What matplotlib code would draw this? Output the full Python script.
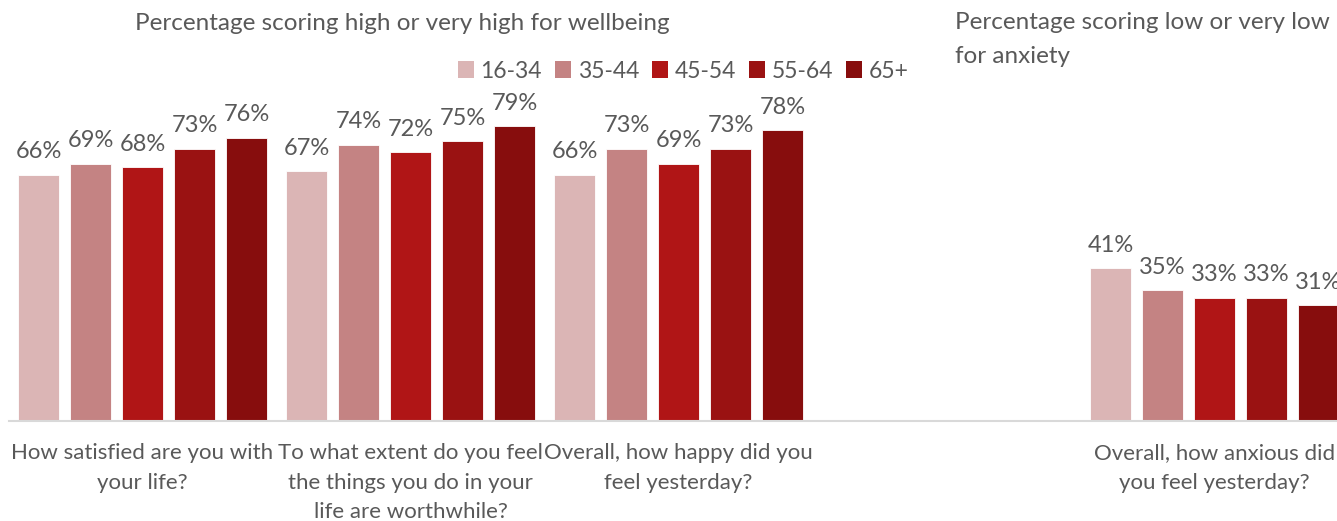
import matplotlib
matplotlib.use("Agg")
import matplotlib.pyplot as plt
from matplotlib.patches import Patch
import numpy as np

# Survey questions (slot 3 is an empty spacer between the two blocks)
questions = [
    "How satisfied are you with\nyour life?",
    "To what extent do you feel\nthe things you do in your\nlife are worthwhile?",
    "Overall, how happy did you\nfeel yesterday?",
    "",
    "Overall, how anxious did\nyou feel yesterday?",
]
question_slots = [0, 1, 2, 4]

age_groups = ["16-34", "35-44", "45-54", "55-64", "65+"]
age_colors = ["#DBB5B5", "#C48383", "#B01516", "#9A1212", "#870D0D"]

# Percentages per question (rows follow question_slots), columns follow age_groups
pct_16_34 = [66, 67, 66, 41]
pct_35_44 = [69, 74, 73, 35]
pct_45_54 = [68, 72, 69, 33]
pct_55_64 = [73, 75, 73, 33]
pct_65_plus = [76, 79, 78, 31]
series = [pct_16_34, pct_35_44, pct_45_54, pct_55_64, pct_65_plus]

text_color = "#595959"
font = "Lato"

fig = plt.figure(figsize=(13.37, 5.21), dpi=100)
ax = fig.add_axes([0, 100 / 521, 1, 421 / 521])

step = 52 / 268
width = 41 / 268
for i, (vals, col) in enumerate(zip(series, age_colors)):
    xs = np.array(question_slots) + (i - 2) * step
    bars = ax.bar(xs, vals, width=width, color=col, edgecolor="white",
                  linewidth=0.6, zorder=2)
    for b, v in zip(bars, vals):
        ax.annotate(f"{v}%", (b.get_x() + b.get_width() / 2, v),
                    xytext=(0, 9), textcoords="offset points",
                    ha="center", va="bottom", fontsize=17,
                    family=font, color=text_color)

ax.set_xlim(-142.5 / 268, (1337 - 142.5) / 268)
ax.set_ylim(0, 421 / 3.73)

ax.set_xticks(range(len(questions)))
ax.set_xticklabels(questions, fontsize=16, family=font, color=text_color,
                   linespacing=1.6, va="top")
ax.tick_params(axis="x", length=0, pad=16)
ax.set_yticks([])
for s in ["top", "right", "left"]:
    ax.spines[s].set_visible(False)
ax.spines["bottom"].set_color("#D9D9D9")
ax.spines["bottom"].set_linewidth(1.5)
ax.spines["bottom"].set_bounds(-0.5, 10)

fig.text(402 / 1337, 1 - 24 / 521, "Percentage scoring high or very high for wellbeing",
         ha="center", va="center", fontsize=17.5, family=font, color=text_color)
fig.text(955 / 1337, 1 - 12 / 521, "Percentage scoring low or very low\nfor anxiety",
         ha="left", va="top", fontsize=17.5, family=font, color=text_color,
         linespacing=1.75)

handles = [Patch(facecolor=c, edgecolor="none") for c in age_colors]
fig.legend(handles, age_groups, loc="center", bbox_to_anchor=(683 / 1337, 1 - 71 / 521),
           ncol=5, frameon=False, handlelength=0.7, handleheight=0.7,
           handletextpad=0.3, columnspacing=0.55,
           prop={"family": font, "size": 16.5}, labelcolor=text_color)

fig.savefig("out.png", dpi=100)
